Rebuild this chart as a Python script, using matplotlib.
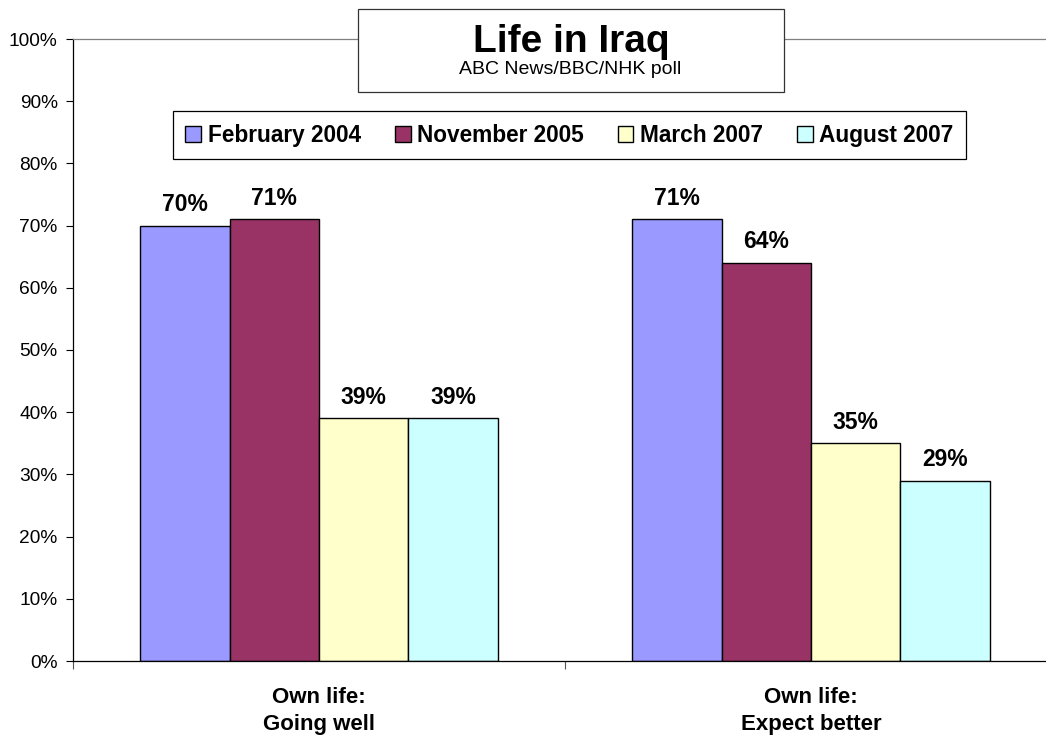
import matplotlib.pyplot as plt
from matplotlib.patches import Rectangle
from matplotlib.ticker import PercentFormatter
import numpy as np

plt.rcParams['font.family'] = ['Liberation Sans', 'DejaVu Sans']

categories = ["Own life:\nGoing well", "Own life:\nExpect better"]
series_names = ["February 2004", "November 2005", "March 2007", "August 2007"]
values = [
    [70, 71],   # February 2004
    [71, 64],   # November 2005
    [39, 35],   # March 2007
    [39, 29],   # August 2007
]
colors = ["#9999FF", "#993366", "#FFFFCC", "#CCFFFF"]

W, H = 1046, 736
fig = plt.figure(figsize=(W / 100, H / 100), dpi=100)
ax = fig.add_axes([73 / W, 1 - 661 / H, 984 / W, (661 - 39) / H])

x = np.arange(len(categories))
bar_w = 1 / 5.5
for i, (name, vals, c) in enumerate(zip(series_names, values, colors)):
    offs = (i - 1.5) * bar_w
    bars = ax.bar(x + offs, vals, bar_w, color=c, edgecolor="black",
                  linewidth=1.0, label=name, zorder=2)
    ax.bar_label(bars, labels=[f"{v}%" for v in vals], padding=7,
                 fontsize=16.5, fontweight="bold")

ax.set_xlim(-0.5, 1.5)
ax.set_ylim(0, 100)
ax.set_yticks(np.arange(0, 101, 10))
ax.yaxis.set_major_formatter(PercentFormatter(decimals=0))
ax.tick_params(axis="y", direction="out", length=5, width=0.8,
               labelsize=13.8, pad=6)

ax.set_xticks([-0.5, 0.5, 1.5])
ax.set_xticklabels([])
ax.tick_params(axis="x", which="major", direction="out", length=6,
               width=0.8, color="#555555")
ax.set_xticks(x, minor=True)
ax.set_xticklabels(categories, minor=True, fontsize=16,
                   fontweight="bold", linespacing=1.35)
ax.tick_params(axis="x", which="minor", length=0, pad=19)

for side in ("left", "bottom"):
    ax.spines[side].set_color("#000000")
    ax.spines[side].set_linewidth(0.9)
for side in ("top", "right"):
    ax.spines[side].set_color("#808080")
    ax.spines[side].set_linewidth(0.9)

# title box
fig.add_artist(Rectangle((358 / W, 1 - 92 / H), (784 - 358) / W, (92 - 9) / H,
                         transform=fig.transFigure, facecolor="white",
                         edgecolor="#333333", linewidth=0.9, zorder=4))
fig.text(571 / W, 1 - 52 / H, "Life in Iraq", ha="center", va="baseline",
         fontsize=28, fontweight="bold", zorder=5)
fig.text(570 / W, 1 - 74 / H, "ABC News/BBC/NHK poll", ha="center",
         va="baseline", fontsize=14, zorder=5)

leg = fig.legend(loc="lower left", ncol=4, mode="expand",
                 bbox_to_anchor=(173 / W, 1 - 159 / H, (966 - 173) / W, 0.01),
                 borderaxespad=0, fancybox=False, framealpha=1,
                 edgecolor="black", handlelength=0.7, handleheight=0.7,
                 handletextpad=0.3, borderpad=0.55,
                 prop={"size": 16.3, "weight": "bold"})
leg.get_frame().set_linewidth(0.9)

fig.savefig("out.png", dpi=100)
